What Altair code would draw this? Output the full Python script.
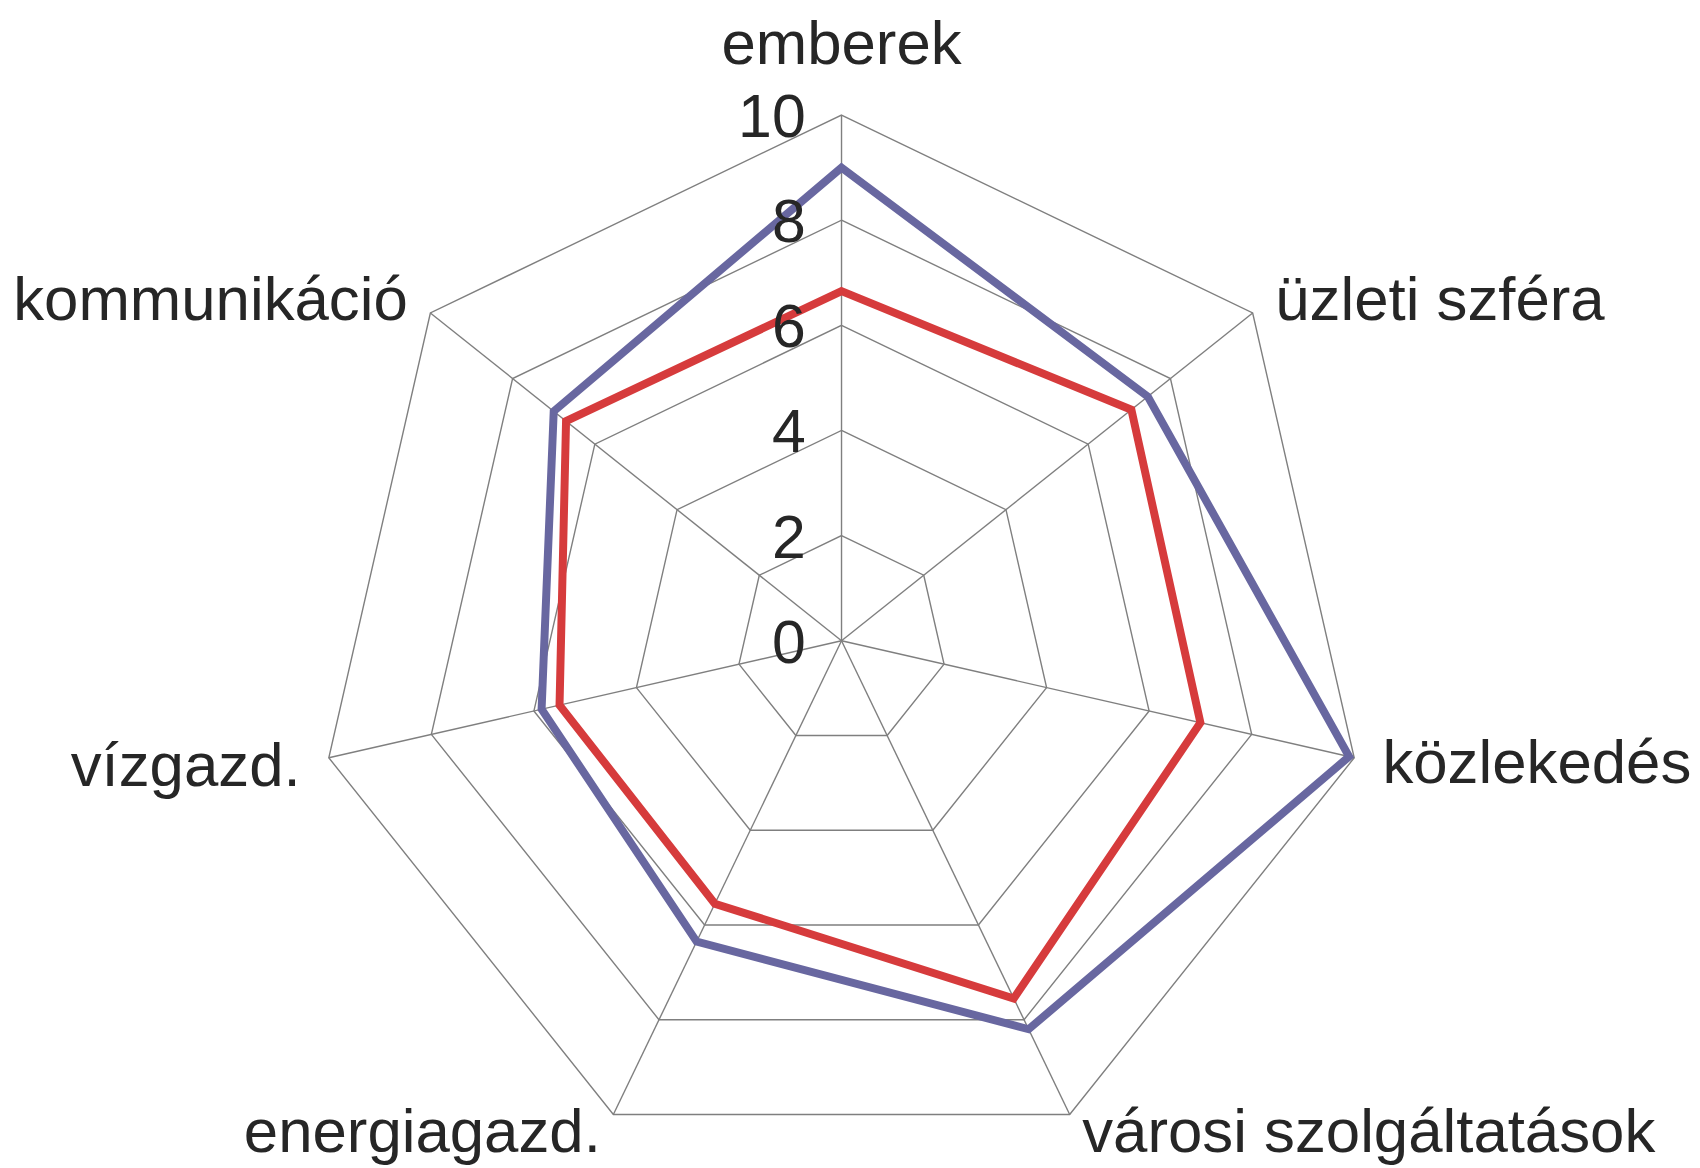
import altair as alt
import pandas as pd

categories = ["emberek", "üzleti szféra", "közlekedés", "városi szolgáltatások",
              "energiagazd.", "vízgazd.", "kommunikáció"]
series_blue = [9.0, 7.45, 9.9, 8.2, 6.35, 5.85, 7.0]
series_red = [6.65, 7.05, 7.0, 7.55, 5.55, 5.5, 6.7]
series_names = ["kék", "piros"]
series_colors = ["#6867a0", "#d63b3c"]
ring_levels = [2, 4, 6, 8, 10]
tick_labels = ["0", "2", "4", "6", "8", "10"]
tick_values = [0, 2, 4, 6, 8, 10]

N = len(categories)

rows = []
for name, vals in zip(series_names, [series_blue, series_red]):
    for i, (c, v) in enumerate(zip(categories, vals)):
        rows.append({"series": name, "idx": i, "cat": c, "value": v})
series_df = pd.DataFrame(rows)

ring_df = pd.DataFrame([{"level": L, "idx": i} for L in ring_levels for i in range(N)])
spoke_df = pd.DataFrame([{"idx": i, "r0": 0, "r1": 10} for i in range(N)])
cat_df = pd.DataFrame([{"idx": i, "cat": c} for i, c in enumerate(categories)])
tick_df = pd.DataFrame({"label": tick_labels, "level": tick_values})

xs = alt.Scale(domain=[-15.85, 16.04], nice=False, zero=False)
ys = alt.Scale(domain=[-9.83, 11.99], nice=False, zero=False)

ANG = "datum.idx * 2 * PI / %d" % N

def xy(chart, rfield, xname="px", yname="py"):
    return chart.transform_calculate(
        **{xname: f"datum.{rfield} * sin({ANG})", yname: f"datum.{rfield} * cos({ANG})"}
    )

GRID = "#7f7f7f"

rings = xy(alt.Chart(ring_df), "level").mark_line(
    interpolate="linear-closed", color=GRID, strokeWidth=1.4
).encode(
    x=alt.X("px:Q", scale=xs, axis=None),
    y=alt.Y("py:Q", scale=ys, axis=None),
    detail="level:N",
    order="idx:Q",
)

spokes = alt.Chart(spoke_df).transform_calculate(
    x0=f"datum.r0 * sin({ANG})", y0=f"datum.r0 * cos({ANG})",
    x1=f"datum.r1 * sin({ANG})", y1=f"datum.r1 * cos({ANG})",
).mark_rule(color=GRID, strokeWidth=1.4).encode(
    x=alt.X("x0:Q", scale=xs, axis=None),
    y=alt.Y("y0:Q", scale=ys, axis=None),
    x2="x1:Q",
    y2="y1:Q",
)

lines = xy(alt.Chart(series_df), "value").mark_line(
    interpolate="linear-closed", strokeWidth=8, strokeJoin="miter"
).encode(
    x=alt.X("px:Q", scale=xs, axis=None),
    y=alt.Y("py:Q", scale=ys, axis=None),
    color=alt.Color("series:N", scale=alt.Scale(domain=series_names, range=series_colors), legend=None),
    detail="series:N",
    order="idx:Q",
)

FONT = "Liberation Sans"
TXT = "#262626"

ticks = alt.Chart(tick_df).mark_text(
    align="right", baseline="middle", dx=-36, dy=4, fontSize=61, font=FONT, color=TXT
).encode(
    x=alt.X("zero:Q", scale=xs, axis=None),
    y=alt.Y("level:Q", scale=ys, axis=None),
    text="label:N",
).transform_calculate(zero="0")

def cat_layer(flt, align, r, dy=0, baseline="middle"):
    return alt.Chart(cat_df).transform_filter(flt).transform_calculate(
        rr=str(r)
    ).transform_calculate(
        px=f"datum.rr * sin({ANG})", py=f"datum.rr * cos({ANG})"
    ).mark_text(
        align=align, baseline=baseline, dy=dy, fontSize=62, font=FONT, color=TXT
    ).encode(
        x=alt.X("px:Q", scale=xs, axis=None),
        y=alt.Y("py:Q", scale=ys, axis=None),
        text="cat:N",
    )

top_label = cat_layer("datum.idx == 0", "center", 10, dy=-51, baseline="alphabetic")
upper_right = cat_layer("datum.idx == 1", "left", 10.55, dy=6)
upper_left = cat_layer("datum.idx == 6", "right", 10.55, dy=6)
mid_right = cat_layer("datum.idx == 2", "left", 10.55, dy=0)
mid_left = cat_layer("datum.idx == 5", "right", 10.55, dy=3)
low_right = cat_layer("datum.idx == 3", "left", 10.55, dy=-8)
low_left = cat_layer("datum.idx == 4", "right", 10.55, dy=-8)

chart = alt.layer(
    rings, spokes, lines, ticks,
    top_label, upper_right, upper_left, mid_right, mid_left, low_right, low_left
).properties(
    width=1684, height=1152, padding=0, background="white"
).configure_view(stroke=None)

chart.save("out.html", embed_options={"renderer": "svg", "actions": False})
